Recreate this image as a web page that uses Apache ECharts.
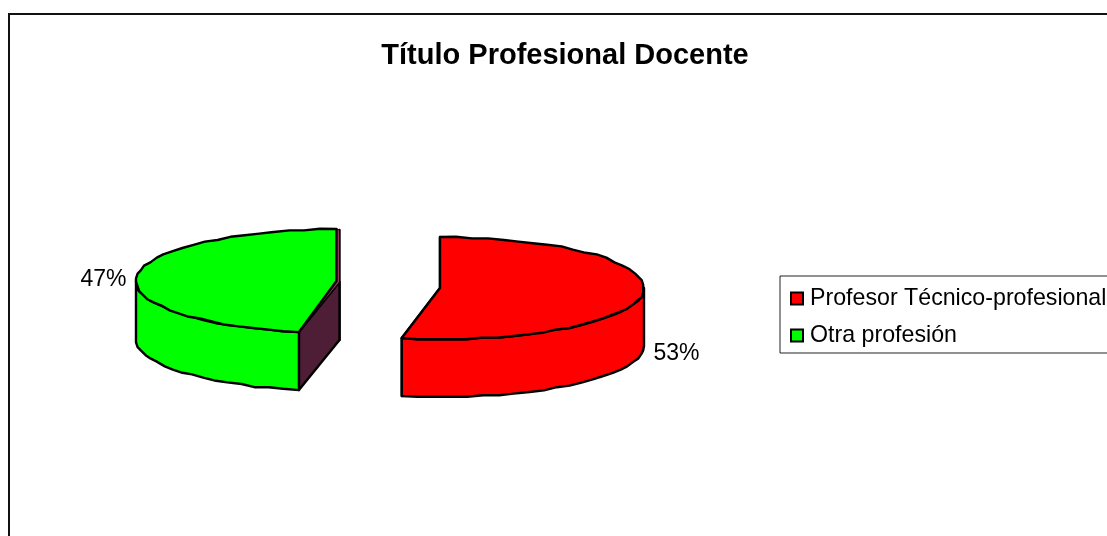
<!DOCTYPE html>
<html><head><meta charset="utf-8">
<style>html,body{margin:0;padding:0;background:#fff}#c{width:1107px;height:536px}</style>
<script src="https://cdn.jsdelivr.net/npm/echarts@6/dist/echarts.min.js"></script>
</head><body><div id="c"></div>
<script>
const categories = ['Profesor Técnico-profesional', 'Otra profesión'];
const values = [53, 47];
const colors = ['#ff0000', '#00ff00'];
const titleText = 'Título Profesional Docente';

// Drawing layout of the exploded 3D pie: one entry for each slice
const layout = [
  {cx: 440, cy: 288, rx: 204, ry: 51, shift: [0, 0], label: [676.5, 354]},
  {cx: 336.5, cy: 281, rx: 200.5, ry: 52, shift: [3, 1], label: [103.5, 280]}
];
const DEPTH = 58, GRID = 1.6;
const total = values.reduce((a, b) => a + b, 0);
const FONT = '"Liberation Sans", Arial, sans-serif';
const snap = v => Math.round(v / GRID) * GRID;

function slice(i) {
  const before = values.slice(0, i).reduce((a, b) => a + b, 0);
  return [before / total * 2 * Math.PI, (before + values[i]) / total * 2 * Math.PI];
}
function renderSlice(i, api) {
  const L = layout[i];
  const [a0, a1] = slice(i);
  const value = api.value(0);
  const pt = (a, dy) => [L.cx + L.rx * Math.sin(a), L.cy - L.ry * Math.cos(a) + (dy || 0)];
  // the rim is a coarse, slightly stepped outline, as in the source picture
  const arc = (from, to, dy) => {
    const n = Math.max(2, Math.ceil((to - from) / 0.08));
    const out = [];
    for (let k = 0; k <= n; k++) {
      const p = pt(from + (to - from) * k / n, dy);
      out.push(k === 0 || k === n ? p : [snap(p[0]), snap(p[1])]);
    }
    return out;
  };
  const line = {stroke: '#000', lineWidth: 2.4, lineJoin: 'round'};
  const poly = (points, fill, extra) => ({
    type: 'polygon', shape: {points},
    style: Object.assign({fill}, line, extra || {})
  });
  const s = L.shift;
  const add = (p, dy) => [p[0] + s[0], p[1] + s[1] + (dy || 0)];
  const apex = [L.cx, L.cy], p0 = pt(a0), p1 = pt(a1);
  const down = (p) => [p[0], p[1] + DEPTH];
  const children = [];
  // inner walls
  children.push(poly([add(p1), add(apex), add(apex, DEPTH), add(p1, DEPTH)], '#4d1e36'));
  children.push(poly([p0, add(apex), add(apex, DEPTH), down(p0)], '#4d1e36'));
  // lit rim between the top face and the inner walls
  if (s[0] || s[1]) {
    children.push(poly([p0, add(apex), add(p1), p1, apex], '#993366', {lineWidth: 1}));
  }
  // front wall: the part of the rim facing the viewer
  const from = Math.max(a0, Math.PI / 2), to = Math.min(a1, Math.PI * 1.5);
  if (to > from) {
    const upper = arc(from, to, 0), lower = arc(from, to, DEPTH).reverse();
    children.push(poly(upper.concat(lower), colors[i]));
  }
  // top face
  children.push(poly([apex].concat(arc(a0, a1, 0)), colors[i]));
  // percentage label
  children.push({
    type: 'text',
    style: {
      text: value + '%', x: L.label[0], y: L.label[1],
      font: '23px ' + FONT, fill: '#000', align: 'center', verticalAlign: 'middle'
    }
  });
  return {type: 'group', children};
}

const chart = echarts.init(document.getElementById('c'), null, {renderer: 'canvas'});
chart.setOption({
  animation: false,
  backgroundColor: '#fff',
  title: {
    text: titleText, left: 560, top: 36, textAlign: 'center',
    textStyle: {fontFamily: FONT, fontSize: 29, fontWeight: 'bold', color: '#000'}
  },
  graphic: [{
    type: 'rect', z: -1, silent: true,
    shape: {x: 9, y: 14, width: 1300, height: 700},
    style: {fill: 'transparent', stroke: '#111', lineWidth: 2}
  }],
  legend: {
    left: 780, top: 276, orient: 'vertical',
    padding: [11, 30, 6, 10],
    itemWidth: 12, itemHeight: 12, itemGap: 14,
    backgroundColor: '#fff', borderColor: '#222', borderWidth: 1,
    textStyle: {fontFamily: FONT, fontSize: 23.2, color: '#000', padding: [0, 0, 0, 2]},
    data: categories.map((name, i) => ({
      name, icon: 'rect',
      itemStyle: {color: colors[i], borderColor: '#000', borderWidth: 2}
    }))
  },
  series: categories.map((name, i) => ({
    type: 'custom', name, coordinateSystem: 'none',
    itemStyle: {color: colors[i]},
    data: [[values[i]]],
    renderItem: (params, api) => renderSlice(i, api)
  }))
});
</script></body></html>
